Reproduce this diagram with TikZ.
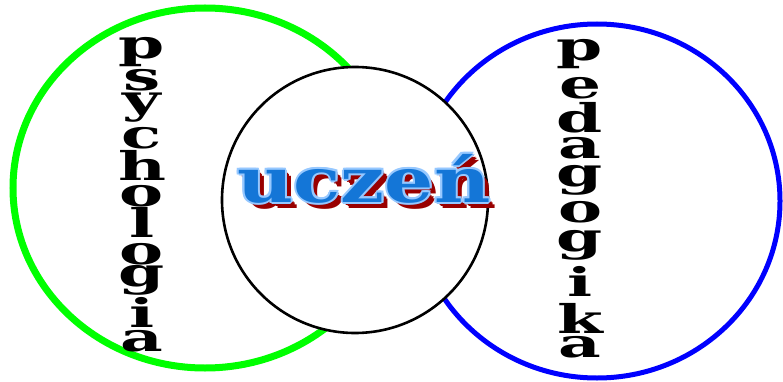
\documentclass[tikz,border=0pt]{standalone}
\usepackage{fontspec}
\newfontfamily\wordfont{DejaVu Serif}
\usetikzlibrary{positioning}
\definecolor{psygreen}{RGB}{0,255,0}
\definecolor{pedblue}{RGB}{0,0,255}
\definecolor{uczfill}{RGB}{20,118,215}
\definecolor{uczrim}{RGB}{150,200,255}
\definecolor{uczshade}{RGB}{153,0,0}

%% one squashed letter of the vertical words
\newcommand{\vlet}[1]{\scalebox{1}[0.6]{\fontsize{66}{66}\selectfont\wordfont\bfseries #1}}
%% the centre word
\newcommand{\uczword}{\scalebox{1.25}[1]{\fontsize{62}{62}\selectfont\wordfont\bfseries uczeń}}

\begin{document}
\begin{tikzpicture}[
  x=1pt, y=-1pt,
  letter/.style={inner sep=0pt, anchor=center},
  word/.style={inner sep=0pt, anchor=base}
]
\useasboundingbox (0,0) rectangle (783,382);

%% Circles
\draw[psygreen, line width=7pt] (205,188) ellipse [x radius=192, y radius=180];
\draw[pedblue, line width=5pt]  (597,201) ellipse [x radius=183, y radius=177];
\draw[black, fill=white, line width=2.6pt] (355,200) circle [radius=133];

%% psychologia
\node[letter] (ps1)  at (142,52)  {\vlet{p}};
\node[letter] (ps2)  at (142,80)  {\vlet{s}};
\node[letter] (ps3)  at (142,108) {\vlet{y}};
\node[letter] (ps4)  at (142,138) {\vlet{c}};
\node[letter] (ps5)  at (142,165) {\vlet{h}};
\node[letter] (ps6)  at (142,196) {\vlet{o}};
\node[letter] (ps7)  at (142,222) {\vlet{l}};
\node[letter] (ps8)  at (142,254) {\vlet{o}};
\node[letter] (ps9)  at (142,280) {\vlet{g}};
\node[letter] (ps10) at (142,312) {\vlet{i}};
\node[letter] (ps11) at (142,341) {\vlet{a}};

%% pedagogika
\node[letter] (pe1)  at (580,54)  {\vlet{p}};
\node[letter] (pe2)  at (580,88)  {\vlet{e}};
\node[letter] (pe3)  at (580,118) {\vlet{d}};
\node[letter] (pe4)  at (580,148) {\vlet{a}};
\node[letter] (pe5)  at (580,180) {\vlet{g}};
\node[letter] (pe6)  at (580,212) {\vlet{o}};
\node[letter] (pe7)  at (580,245) {\vlet{g}};
\node[letter] (pe8)  at (580,281) {\vlet{i}};
\node[letter] (pe9)  at (580,318) {\vlet{k}};
\node[letter] (pe10) at (580,347) {\vlet{a}};

%% uczeń: shadow, rim, face
\foreach \dx/\dy [count=\k] in {0/0,1.5/1.5,3/3,4.5/4.5,6/6}
  \node[word, text=uczshade] (shade\k) at (364+\dx,202+\dy) {\uczword};
\foreach \dx/\dy [count=\k] in {-2/0,2/0,0/-2,0/2,-1.5/-1.5,1.5/-1.5,-1.5/1.5,1.5/1.5}
  \node[word, text=uczrim] (rim\k) at (364+\dx,202+\dy) {\uczword};
\node[word, text=uczfill] (uczen) at (364,202) {\uczword};
\end{tikzpicture}
\end{document}
